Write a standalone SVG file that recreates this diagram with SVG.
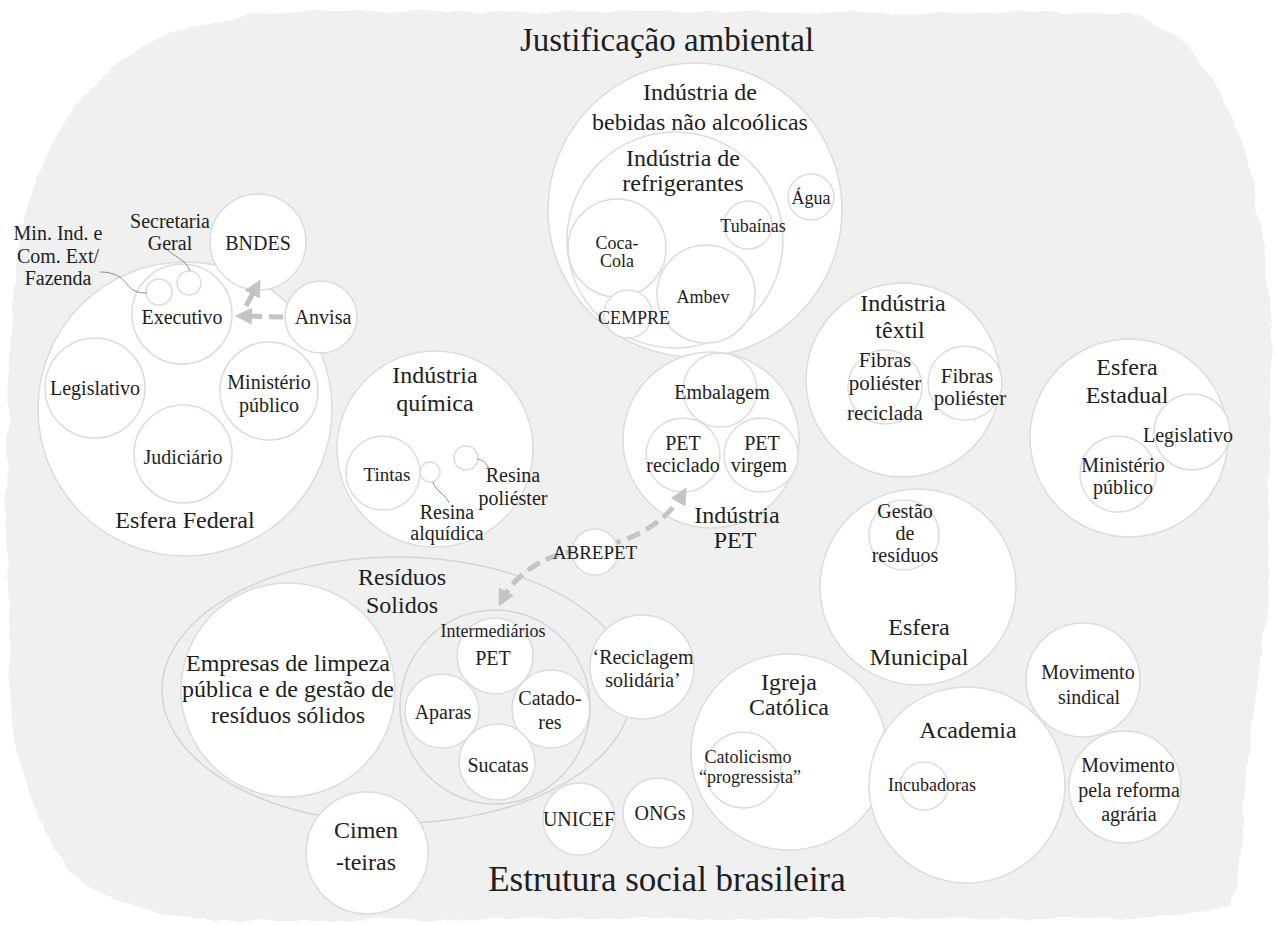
<svg xmlns="http://www.w3.org/2000/svg" width="1275" height="925" viewBox="0 0 1275 925">
<defs>
<style>
.n{fill:#fff;stroke:#dcdcdc;stroke-width:1.5}
.o{fill:none;stroke:#d4d4d4;stroke-width:1.5}
text{fill:#1e1e1e;text-anchor:middle}
.T{font-size:33px}
.L{font-size:24px}
.M{font-size:20px}
.S{font-size:18px}
.lead{fill:none;stroke:#8c8c8c;stroke-width:1}
.arr{fill:none;stroke:#c4c4c4;stroke-width:5;stroke-dasharray:14 7}
</style>
<marker id="ah" viewBox="0 0 10 10" refX="7" refY="5" markerUnits="userSpaceOnUse" markerWidth="17" markerHeight="17" orient="auto-start-reverse"><path d="M0,0 L10,5 L0,10 z" fill="#c4c4c4"/></marker>
<filter id="rough" x="-3%" y="-3%" width="106%" height="106%"><feTurbulence type="fractalNoise" baseFrequency="0.035" numOctaves="2" seed="3"/><feDisplacementMap in="SourceGraphic" scale="8" xChannelSelector="R" yChannelSelector="G"/></filter>
</defs>
<rect width="1275" height="925" fill="#fff"/>
<path id="background" filter="url(#rough)" fill="#f0f0f0" d="M300,12 L1130,13 C1180,30 1215,70 1235,125 C1255,180 1268,250 1270,340 L1269,590 C1266,630 1258,680 1250,740 C1244,800 1244,860 1232,908 L1150,918 L210,920 C150,915 100,900 75,875 C45,840 25,790 12,735 L6,500 C8,400 10,330 14,290 C20,220 35,170 60,130 C90,80 130,45 185,28 C220,18 260,13 300,12 Z"/>
<g font-family="Liberation Serif, DejaVu Serif, serif">
<text class="T" x="667" y="51">Justificação ambiental</text>
<text class="T" x="667" y="891" style="font-size:35px">Estrutura social brasileira</text>

<g id="esfera-federal">
<circle class="n" cx="185" cy="409" r="147"/>
<text class="L" x="185" y="528">Esfera Federal</text>
</g>
<g id="executivo">
<circle class="n" cx="182" cy="314" r="50"/>
<text class="M" x="182" y="324">Executivo</text>
</g>
<g id="min-ind"><circle class="n" cx="159" cy="292" r="13"/>
<text class="M" x="58" y="240">Min. Ind. e</text><text class="M" x="58" y="263">Com. Ext/</text><text class="M" x="58" y="285">Fazenda</text></g>
<g id="secretaria"><circle class="n" cx="189" cy="283" r="12"/>
<text class="M" x="170" y="228">Secretaria</text><text class="M" x="170" y="250">Geral</text></g>
<g id="bndes"><circle class="n" cx="258" cy="242" r="48"/><text class="M" x="258" y="250">BNDES</text></g>
<g id="anvisa"><circle class="n" cx="321" cy="317" r="36"/><text class="M" x="323" y="324">Anvisa</text></g>
<g id="legislativo-fed"><circle class="n" cx="95" cy="388" r="50"/><text class="M" x="95" y="395">Legislativo</text></g>
<g id="ministerio-fed"><circle class="n" cx="269" cy="391" r="49"/><text class="M" x="269" y="389">Ministério</text><text class="M" x="269" y="412">público</text></g>
<g id="judiciario"><circle class="n" cx="183" cy="454" r="49"/><text class="M" x="183" y="464">Judiciário</text></g>

<g id="bebidas"><circle class="n" cx="695" cy="210" r="147"/>
<text class="L" x="700" y="100">Indústria de</text><text class="L" x="700" y="130">bebidas não alcoólicas</text></g>
<g id="refrigerantes"><circle class="n" cx="675" cy="240" r="108"/>
<text class="L" x="683" y="166">Indústria de</text><text class="L" x="683" y="191">refrigerantes</text></g>
<g id="agua"><circle class="n" cx="811" cy="197" r="23"/><text class="S" x="811" y="204">Água</text></g>
<g id="tubainas"><circle class="n" cx="748" cy="225" r="24"/><text class="S" x="753" y="232">Tubaínas</text></g>
<g id="coca-cola"><circle class="n" cx="617" cy="248" r="49"/><text class="S" x="617" y="249">Coca-</text><text class="S" x="617" y="267">Cola</text></g>
<g id="ambev"><circle class="n" cx="706" cy="294" r="49"/><text class="S" x="703" y="303">Ambev</text></g>
<g id="cempre"><circle class="n" cx="628" cy="314" r="24"/><text class="S" x="634" y="324">CEMPRE</text></g>

<g id="quimica"><circle class="n" cx="435" cy="449" r="98"/>
<text class="L" x="435" y="383">Indústria</text><text class="L" x="435" y="411">química</text></g>
<g id="tintas"><circle class="n" cx="383" cy="473" r="37"/><text class="M" x="387" y="481" style="font-size:19px">Tintas</text></g>
<g id="resina-alquidica"><circle class="n" cx="430" cy="472" r="10"/><text class="M" x="447" y="519">Resina</text><text class="M" x="447" y="540">alquídica</text></g>
<g id="resina-poliester"><circle class="n" cx="466" cy="458" r="12"/><text class="M" x="513" y="482">Resina</text><text class="M" x="513" y="505">poliéster</text></g>

<g id="industria-pet"><circle class="n" cx="711" cy="440" r="88"/>
<text class="L" x="737" y="523">Indústria</text><text class="L" x="735" y="548">PET</text></g>
<g id="embalagem"><circle class="n" cx="720" cy="390" r="37"/><text class="M" x="722" y="399">Embalagem</text></g>
<g id="pet-reciclado"><circle class="n" cx="683" cy="455" r="37"/><text class="M" x="683" y="450">PET</text><text class="M" x="683" y="472">reciclado</text></g>
<g id="pet-virgem"><circle class="n" cx="761" cy="455" r="37"/><text class="M" x="762" y="450">PET</text><text class="M" x="759" y="472">virgem</text></g>

<g id="textil"><circle class="n" cx="903" cy="380" r="97"/>
<text class="L" x="903" y="311">Indústria</text><text class="L" x="900" y="338">têxtil</text></g>
<g id="fibras-recicladas"><circle class="n" cx="885" cy="387" r="37"/><text class="M" x="885" y="367" style="font-size:21px">Fibras</text><text class="M" x="885" y="390" style="font-size:21px">poliéster</text><text class="M" x="885" y="420" style="font-size:21px">reciclada</text></g>
<g id="fibras"><circle class="n" cx="965" cy="383" r="37"/><text class="M" x="967" y="383" style="font-size:21px">Fibras</text><text class="M" x="970" y="405" style="font-size:21px">poliéster</text></g>

<g id="esfera-estadual"><circle class="n" cx="1129" cy="438" r="99"/>
<text class="L" x="1127" y="375">Esfera</text><text class="L" x="1127" y="403">Estadual</text></g>
<g id="legislativo-est"><circle class="n" cx="1192" cy="432" r="38"/><text class="M" x="1188" y="442">Legislativo</text></g>
<g id="ministerio-est"><circle class="n" cx="1118" cy="474" r="38"/><text class="M" x="1123" y="472">Ministério</text><text class="M" x="1123" y="494">público</text></g>

<g id="esfera-municipal"><circle class="n" cx="918" cy="587" r="98"/>
<text class="L" x="919" y="635">Esfera</text><text class="L" x="919" y="665">Municipal</text></g>
<g id="gestao-residuos"><circle class="n" cx="904" cy="535" r="35"/><text class="M" x="905" y="518">Gestão</text><text class="M" x="905" y="540">de</text><text class="M" x="905" y="562">resíduos</text></g>

<g id="movimento-sindical"><circle class="n" cx="1083" cy="680" r="57"/><text class="M" x="1088" y="679">Movimento</text><text class="M" x="1089" y="704">sindical</text></g>
<g id="movimento-reforma"><circle class="n" cx="1125" cy="787" r="56"/><text class="M" x="1128" y="772">Movimento</text><text class="M" x="1129" y="797">pela reforma</text><text class="M" x="1129" y="821">agrária</text></g>

<g id="igreja"><circle class="n" cx="789" cy="752" r="98"/>
<text class="L" x="789" y="690">Igreja</text><text class="L" x="789" y="715">Católica</text></g>
<g id="catolicismo"><circle class="n" cx="743" cy="770" r="38"/><text class="S" x="748" y="763">Catolicismo</text><text class="S" x="750" y="783">“progressista”</text></g>

<g id="academia"><circle class="n" cx="967" cy="785" r="98"/><text class="L" x="968" y="738">Academia</text></g>
<g id="incubadoras"><circle class="n" cx="924" cy="786" r="24"/><text class="S" x="932" y="791">Incubadoras</text></g>

<g id="residuos"><ellipse class="o" cx="397" cy="690" rx="235" ry="133"/>
<text class="L" x="402" y="585">Resíduos</text><text class="L" x="402" y="613">Solidos</text></g>
<g id="empresas"><circle class="n" cx="288" cy="690" r="107"/>
<text class="L" x="288" y="671">Empresas de limpeza</text><text class="L" x="288" y="697">pública e de gestão de</text><text class="L" x="288" y="723">resíduos sólidos</text></g>
<g id="pet-int"><circle class="n" cx="495" cy="656" r="38"/><text class="M" x="493" y="665">PET</text></g>
<g id="aparas"><circle class="n" cx="442" cy="711" r="37"/><text class="M" x="443" y="719">Aparas</text></g>
<g id="catadores"><circle class="n" cx="551" cy="709" r="39"/><text class="M" x="550" y="705">Catado-</text><text class="M" x="550" y="729">res</text></g>
<g id="sucatas"><circle class="n" cx="497" cy="762" r="38"/><text class="M" x="498" y="772">Sucatas</text></g>
<g id="intermediarios"><ellipse class="o" cx="495" cy="707" rx="95" ry="97"/><text class="S" x="493" y="637">Intermediários</text></g>
<g id="reciclagem-solidaria"><circle class="n" cx="642" cy="667" r="52"/><text class="M" x="643" y="664">‘Reciclagem</text><text class="M" x="643" y="687">solidária’</text></g>
<g id="cimenteiras"><circle class="n" cx="367" cy="853" r="61"/><text class="L" x="366" y="838">Cimen</text><text class="L" x="366" y="870">-teiras</text></g>
<g id="unicef"><circle class="n" cx="579" cy="819" r="36"/><text class="M" x="579" y="826">UNICEF</text></g>
<g id="ongs"><circle class="n" cx="658" cy="813" r="35"/><text class="M" x="660" y="820">ONGs</text></g>

<g id="connectors">
<path class="lead" d="M100,272 C118,272 123,280 127,284 C132,292 140,293 147,293"/>
<path class="lead" d="M168,250 C172,256 185,258 190,271"/>
<path class="lead" d="M477,459 C484,460 487,464 489,469"/>
<path class="lead" d="M433,482 C436,492 446,494 449,503"/>
<path class="arr" d="M283,317 L240,316" marker-end="url(#ah)"/>
<path class="arr" d="M246,306 L258,284" marker-end="url(#ah)"/>
<path class="arr" d="M501,602 C520,565 555,552 595,547 S668,520 684,492" marker-start="url(#ah)" marker-end="url(#ah)"/>
</g>
<g id="abrepet"><circle class="n" cx="595" cy="552" r="23"/><text class="S" x="595" y="559" style="font-size:19px">ABREPET</text></g>
</g>
</svg>
